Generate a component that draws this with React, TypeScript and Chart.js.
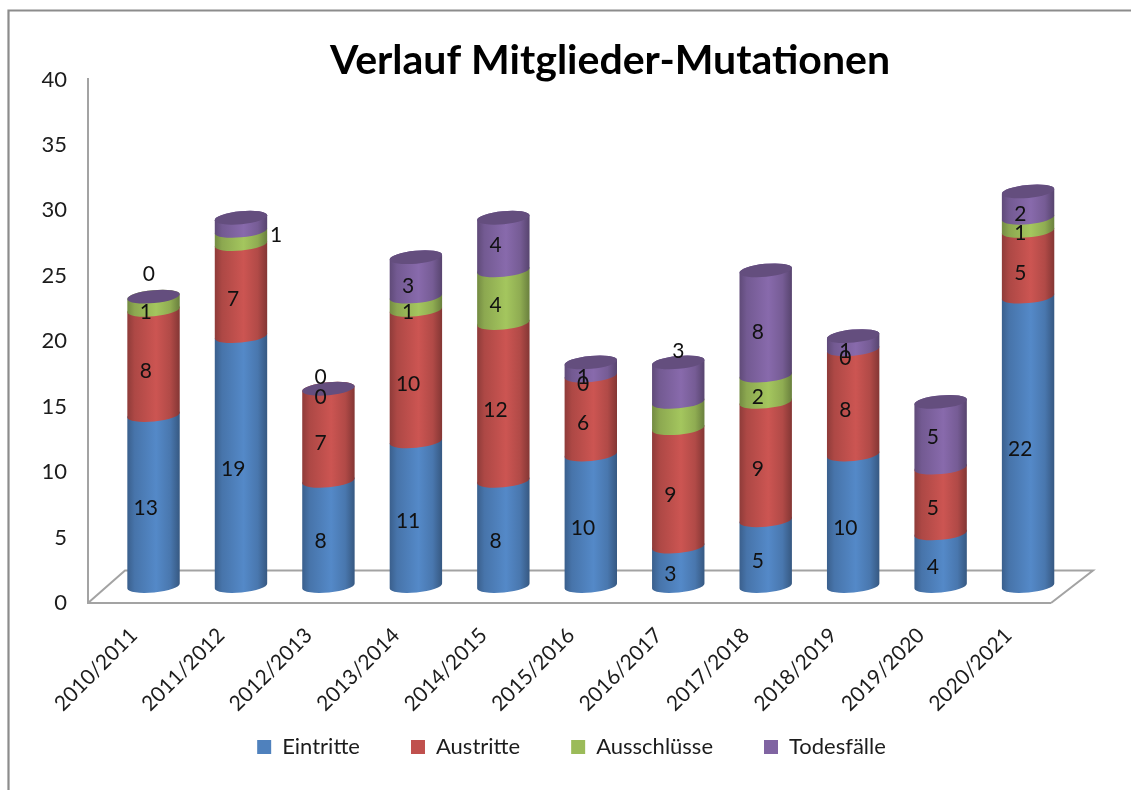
import React, { useEffect, useRef } from "react";
import { Chart, registerables } from "chart.js";

Chart.register(...registerables);

const categories = ["2010/2011", "2011/2012", "2012/2013", "2013/2014", "2014/2015", "2015/2016", "2016/2017", "2017/2018", "2018/2019", "2019/2020", "2020/2021"];
const eintritte = [13, 19, 8, 11, 8, 10, 3, 5, 10, 4, 22];
const austritte = [8, 7, 7, 10, 12, 6, 9, 9, 8, 5, 5];
const ausschluesse = [1, 1, 0, 1, 4, 0, 2, 2, 0, 0, 1];
const todesfaelle = [0, 1, 0, 3, 4, 1, 3, 8, 1, 5, 2];
const yTicks = [0, 5, 10, 15, 20, 25, 30, 35, 40];

const FONT = "Lato, Carlito, 'Open Sans', sans-serif";
const TEXT = "#1c1c1c";
const LINE = "#a3a3a3";
const DEPTH_X = 21.8;
const DEPTH_Y = -17;
const DEPTH_K = 1.005;
const RY = 6.5;
const ROT = (-5.5 * Math.PI) / 180;

// Label placement exceptions, key "dataset:index"; null hides a label.
const labelNudges: Record<string, [number, number] | null> = {
  "2:1": null,
  "3:1": [43, 2],
  "3:0": [3, -31],
  "3:2": [0, -20],
  "2:6": null,
  "3:6": [8, -39],
  "2:9": null,
  "3:9": [0, -6],
  "3:4": [0, -8],
};

function shade(rgb: number[], f: number) {
  return `rgb(${rgb.map((c) => Math.min(255, Math.round(c * f))).join(",")})`;
}
const RGB = [
  [79, 129, 189],
  [192, 80, 77],
  [155, 187, 89],
  [128, 100, 162],
];

const cylinders = {
  id: "cylinders",
  afterLayout(chart: any) {
    if (chart.titleBlock) {
      chart.titleBlock.left += 79;
      chart.titleBlock.right += 79;
    }
    if (chart.legend) {
      chart.legend.left += 40.5;
      chart.legend.right += 40.5;
      chart.legend.top -= 22;
      chart.legend.bottom -= 22;
    }
    chart.scales.x.bottom = chart.height;
  },
  beforeDraw(chart: any) {
    const { ctx, width, height } = chart;
    ctx.save();
    ctx.fillStyle = "#fff";
    ctx.fillRect(0, 0, width, height);
    ctx.strokeStyle = "#8c8c8c";
    ctx.lineWidth = 2.2;
    ctx.beginPath();
    ctx.moveTo(8.5, height);
    ctx.lineTo(8.5, 10.5);
    ctx.lineTo(width, 10.5);
    ctx.stroke();
    ctx.restore();
  },
  beforeDatasetsDraw(chart: any) {
    const { ctx } = chart;
    const { left, right, bottom } = chart.chartArea;
    ctx.save();
    ctx.strokeStyle = LINE;
    ctx.lineWidth = 2;
    ctx.beginPath();
    ctx.moveTo(left, bottom);
    ctx.lineTo(left + 37, bottom - 32.5);
    ctx.lineTo(right + 43, bottom - 32.5);
    ctx.lineTo(right + 1, bottom);
    ctx.stroke();

    const project = (y: number) => bottom + DEPTH_Y + (y - bottom) * DEPTH_K;
    const count = chart.data.labels.length;
    const sets = chart.data.datasets.length;
    for (let i = 0; i < count; i++) {
      for (let d = 0; d < sets; d++) {
        const el = chart.getDatasetMeta(d).data[i];
        const value = chart.data.datasets[d].data[i];
        const cx = el.x + DEPTH_X;
        const a = el.width / 2;
        const yTop = project(el.y);
        const yBase = project(el.base);
        if (value > 0) {
          const dxEdge = a * Math.cos(ROT);
          const dyEdge = a * Math.sin(ROT);
          const grad = ctx.createLinearGradient(cx - a, 0, cx + a, 0);
          const c = RGB[d];
          grad.addColorStop(0, shade(c, 0.74));
          grad.addColorStop(0.14, shade(c, 0.9));
          grad.addColorStop(0.55, shade(c, 1.06));
          grad.addColorStop(0.82, shade(c, 0.92));
          grad.addColorStop(1, shade(c, 0.68));
          ctx.fillStyle = grad;
          ctx.beginPath();
          ctx.moveTo(cx - dxEdge, yBase - dyEdge);
          ctx.ellipse(cx, yBase, a, RY, ROT, Math.PI, 0, true);
          ctx.lineTo(cx + dxEdge, yTop + dyEdge);
          ctx.ellipse(cx, yTop, a, RY, ROT, 0, Math.PI, true);
          ctx.closePath();
          ctx.fill();
        }
        if (d === sets - 1) {
          ctx.fillStyle = shade(RGB[d], 0.78);
          ctx.beginPath();
          ctx.ellipse(cx, yTop, a, RY, ROT, 0, Math.PI * 2);
          ctx.fill();
        }
      }
    }
    ctx.restore();
    return false;
  },
  afterDraw(chart: any) {
    const { ctx } = chart;
    ctx.save();
    ctx.font = `21px ${FONT}`;
    ctx.fillStyle = "#111";
    ctx.textAlign = "center";
    ctx.textBaseline = "middle";
    chart.data.datasets.forEach((ds: any, d: number) => {
      chart.getDatasetMeta(d).data.forEach((el: any, i: number) => {
        const nudge = labelNudges[`${d}:${i}`];
        if (nudge === null) return;
        const [nx, ny] = nudge || [0, 0];
        ctx.fillText(String(ds.data[i]), el.x + 14 + nx, (el.y + el.base) / 2 - 9.5 + ny);
      });
    });
    ctx.restore();
  },
};

export default function App() {
  const ref = useRef<HTMLCanvasElement>(null);
  useEffect(() => {
    const chart = new Chart(ref.current as HTMLCanvasElement, {
      type: "bar",
      data: {
        labels: categories,
        datasets: [
          { label: "Eintritte", data: eintritte, backgroundColor: "#4f81bd" },
          { label: "Austritte", data: austritte, backgroundColor: "#c0504d" },
          { label: "Ausschlüsse", data: ausschluesse, backgroundColor: "#9bbb59" },
          { label: "Todesfälle", data: todesfaelle, backgroundColor: "#8064a2" },
        ],
      },
      options: {
        animation: false,
        responsive: false,
        categoryPercentage: 1,
        barPercentage: 0.602,
        layout: { padding: { left: 12, right: 81, top: 42.5, bottom: 0 } },
        plugins: {
          tooltip: { enabled: false },
          title: {
            display: true,
            text: "Verlauf Mitglieder-Mutationen",
            color: "#000",
            font: { family: FONT, size: 41, weight: "bold", lineHeight: 0.878 },
            padding: { top: 0, bottom: 1 },
          },
          legend: {
            position: "bottom",
            labels: {
              color: TEXT,
              font: { family: FONT, size: 22 },
              boxWidth: 14,
              boxHeight: 14,
              padding: 51,
            },
          },
        },
        scales: {
          x: {
            stacked: true,
            grid: { display: false, drawTicks: false },
            border: { display: true, color: LINE, width: 2 },
            ticks: {
              color: TEXT,
              font: { family: FONT, size: 21 },
              minRotation: 45,
              maxRotation: 45,
              padding: 20,
              labelOffset: 2,
            },
            afterFit(scale: any) {
              scale.height = 104;
            },
          },
          y: {
            stacked: true,
            min: yTicks[0],
            max: yTicks[yTicks.length - 1],
            afterBuildTicks(scale: any) {
              scale.ticks = yTicks.map((value) => ({ value }));
            },
            grid: { display: false, drawTicks: false },
            border: { display: true, color: LINE, width: 2 },
            ticks: {
              color: TEXT,
              font: { family: FONT, size: 22 },
              padding: 21,
            },
            afterFit(scale: any) {
              scale.width = 76;
            },
          },
        },
      },
      plugins: [cylinders],
    } as any);
    return () => chart.destroy();
  }, []);
  return (
    <canvas
      ref={ref}
      width={1131}
      height={790}
      style={{ position: "fixed", left: 0, top: 0, width: 1131, height: 790, display: "block" }}
    />
  );
}
